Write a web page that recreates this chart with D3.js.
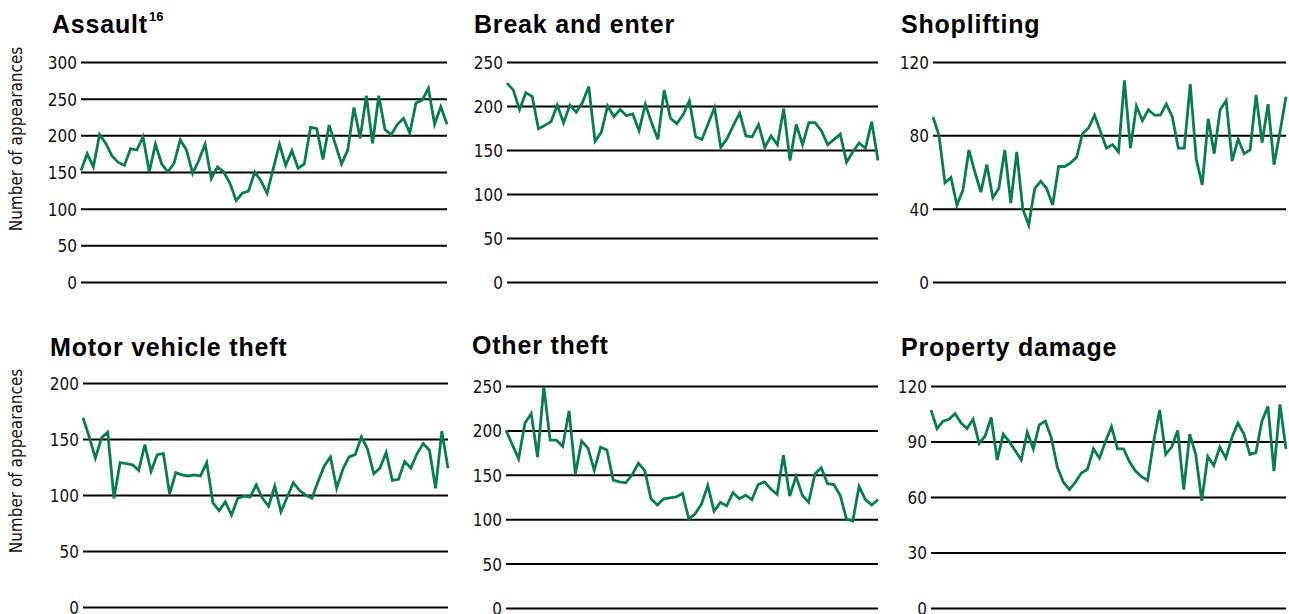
<!DOCTYPE html>
<html>
<head>
<meta charset="utf-8">
<script src="https://cdn.jsdelivr.net/npm/d3@7/dist/d3.min.js"></script>
<style>
  html, body { margin: 0; padding: 0; background: #fff; }
  svg { display: block; }
</style>
</head>
<body>
<svg id="chart" width="1289" height="614"></svg>
<script>
// ---------------- DATA (monthly counts) ----------------
const months = d3.range(60);

const assault = [152,175,157,201,189,172,163,159,182,180,198,150,188,161,150,162,194,180,148,166,
                 188,141,157,150,135,111,121,124,150,138,121,155,188,159,179,155,161,211,209,167,
                 214,188,161,180,238,196,254,189,254,208,201,215,223,203,244,248,264,215,239,215];

const breakEnter = [226,218,196,215,211,174,178,182,201,181,201,193,204,222,160,170,200,188,196,189,
                    191,172,202,181,162,218,186,180,190,206,165,162,180,198,153,163,178,192,166,165,
                    179,153,166,156,197,138,179,156,181,181,172,156,162,168,136,148,158,152,182,138];

const shoplifting = [90,80,54,57,42,50,72,60,49,64,46,51,72,43,71,40,31,51,55,51,
                     42,63,63,65,68,81,84,91,82,73,75,71,110,73,96,88,94,91,91,97,
                     90,73,73,108,67,53,89,70,94,99,66,78,70,72,102,76,97,64,82,101];

const motorVehicle = [169,152,133,151,156,97,129,128,127,122,145,121,136,137,101,120,118,117,118,117,
                      129,93,86,94,82,97,99,98,109,97,90,108,85,98,111,104,100,97,112,126,
                      134,106,123,134,136,152,141,119,124,138,113,114,130,124,137,146,140,106,157,124];

const otherTheft = [200,184,168,208,219,170,249,189,189,182,222,151,188,180,155,181,178,144,142,141,
                    150,163,155,123,116,123,124,125,129,100,106,117,138,109,119,115,130,123,127,122,
                    139,142,134,128,172,126,148,127,119,151,158,140,139,127,100,98,137,122,116,122];

const propertyDamage = [107,97,101,102,105,100,97,102,89,93,103,80,94,90,85,80,95,86,99,101,
                        92,76,68,64,68,73,75,86,81,90,98,86,86,79,74,71,69,90,107,83,
                        87,96,64,94,83,58,82,77,87,81,92,100,94,83,84,101,109,74,110,86];

const ticks300 = [0, 50, 100, 150, 200, 250, 300];
const ticks250 = [0, 50, 100, 150, 200, 250];
const ticks200 = [0, 50, 100, 150, 200];
const ticks120by40 = [0, 40, 80, 120];
const ticks120by30 = [0, 30, 60, 90, 120];

const titles = ["Assault", "Break and enter", "Shoplifting", "Motor vehicle theft", "Other theft", "Property damage"];
const yAxisLabel = "Number of appearances";

// ---------------- LAYOUT ----------------
const panels = [
  { title: titles[0], sup: "16", values: assault,       max: 300, ticks: ticks300,     x0: 81,  x1: 447,  yTop: 62,  yBot: 282, tx: 52,  ty: 33 },
  { title: titles[1],             values: breakEnter,    max: 250, ticks: ticks250,     x0: 507, x1: 878,  yTop: 62,  yBot: 282, tx: 474, ty: 33 },
  { title: titles[2],             values: shoplifting,   max: 120, ticks: ticks120by40, x0: 933, x1: 1286, yTop: 62,  yBot: 282, tx: 901, ty: 33 },
  { title: titles[3],             values: motorVehicle,  max: 200, ticks: ticks200,     x0: 83,  x1: 448,  yTop: 383, yBot: 607, tx: 50,  ty: 356 },
  { title: titles[4],             values: otherTheft,    max: 250, ticks: ticks250,     x0: 506, x1: 878,  yTop: 386, yBot: 608, tx: 472, ty: 354 },
  { title: titles[5],             values: propertyDamage,max: 120, ticks: ticks120by30, x0: 931, x1: 1286, yTop: 386, yBot: 608, tx: 901, ty: 356 }
];

const LINE_COLOR = "#0b7b50";
const NARROW = "'Liberation Sans Narrow', 'Arial Narrow', 'DejaVu Sans Condensed', sans-serif";
const SANS = "'Liberation Sans', Arial, Helvetica, sans-serif";

const svg = d3.select("#chart");

panels.forEach(p => {
  const g = svg.append("g");
  const x = d3.scaleLinear().domain([0, months.length - 1]).range([p.x0, p.x1]);
  const y = d3.scaleLinear().domain([0, p.max]).range([p.yBot, p.yTop]);

  // gridlines + tick labels via axis
  const axis = d3.axisLeft(y)
    .tickValues(p.ticks)
    .tickSize(-(p.x1 - p.x0))
    .tickPadding(4)
    .tickFormat(d3.format("d"));

  const ag = g.append("g")
    .attr("transform", `translate(${p.x0},0)`)
    .call(axis);
  ag.select(".domain").remove();
  ag.selectAll(".tick line")
    .attr("stroke", "#000")
    .attr("stroke-width", 2);
  ag.selectAll(".tick text")
    .attr("fill", "#111")
    .attr("dy", "0.38em")
    .style("font-family", NARROW)
    .style("font-size", "17px");

  // data line
  const line = d3.line()
    .x((d, i) => x(months[i]))
    .y(d => y(d));
  g.append("path")
    .datum(p.values)
    .attr("fill", "none")
    .attr("stroke", LINE_COLOR)
    .attr("stroke-width", 2.8)
    .attr("stroke-linejoin", "miter")
    .attr("d", line);

  // title
  const t = g.append("text")
    .attr("x", p.tx)
    .attr("y", p.ty)
    .attr("fill", "#000")
    .style("font-family", SANS)
    .style("font-weight", "bold")
    .style("font-size", "25px")
    .style("letter-spacing", "0.8px")
    .text(p.title);
  if (p.sup) {
    const bb = t.node().getBBox();
    g.append("text")
      .attr("x", bb.x + bb.width + 1)
      .attr("y", p.ty - 12)
      .attr("fill", "#000")
      .style("font-family", SANS)
      .style("font-weight", "bold")
      .style("font-size", "13px")
      .text(p.sup);
  }
});

// y-axis labels
[139, 461].forEach(cy => {
  svg.append("text")
    .attr("transform", `translate(22,${cy}) rotate(-90)`)
    .attr("text-anchor", "middle")
    .attr("fill", "#111")
    .style("font-family", NARROW)
    .style("font-size", "17px")
    .text(yAxisLabel);
});
</script>
</body>
</html>
